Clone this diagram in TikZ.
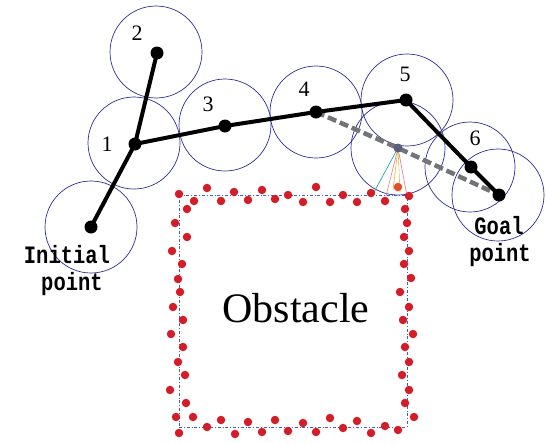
\documentclass[tikz,border=0pt]{standalone}
\usepackage{fontspec}
\setmainfont{Liberation Serif}
\newfontfamily\labfont[FakeStretch=0.82]{Liberation Mono}
\definecolor{zoneblue}{RGB}{45,45,150}
\definecolor{ghostgray}{RGB}{115,115,120}
\definecolor{reddot}{RGB}{210,30,40}
\definecolor{obsblue}{RGB}{70,90,200}
\definecolor{midgray}{RGB}{90,95,125}
\begin{document}
\begin{tikzpicture}[x=1pt,y=-1pt,
  zone/.style={circle,draw=zoneblue,line width=0.7pt,minimum size=92pt,inner sep=0pt},
  wp/.style={circle,fill=black,minimum size=13pt,inner sep=0pt},
  route/.style={line width=4pt,black,line cap=round,line join=round},
  ghost/.style={line width=4.5pt,draw=ghostgray,dash pattern=on 9pt off 4pt},
  rd/.style={circle,fill=reddot,minimum size=8.5pt,inner sep=0pt},
  num/.style={font=\fontsize{22}{22}\selectfont,inner sep=0pt},
  lbl/.style={font=\labfont\bfseries\fontsize{25}{25}\selectfont,anchor=base,inner sep=0pt},
  ray/.style={line width=0.6pt}]
\useasboundingbox (0,0) rectangle (546,442);
% zones
\node[zone] (z0) at (91,227) {};
\node[zone] (z1) at (134,143) {};
\node[zone] (z2) at (156,52) {};
\node[zone] (z3) at (225,125) {};
\node[zone] (z4) at (316,112) {};
\node[zone] (z5) at (407,100) {};
\node[zone,minimum size=94pt] (zm) at (398,148) {};
\node[zone,minimum size=90pt] (z6) at (470,167) {};
\node[zone] (zg) at (498,195) {};
% obstacle
\node[draw=obsblue,line width=0.7pt,dash dot,minimum width=228pt,minimum height=232pt,inner sep=0pt] (obs) at (293,311) {};
\node[font=\fontsize{42}{42}\selectfont,anchor=base,inner sep=0pt] (obstxt) at (296,322) {Obstacle};
% waypoints
\coordinate (p0) at (91,227);
\coordinate (p1) at (135,144);
\coordinate (p2) at (157,53);
\coordinate (p3) at (225,126);
\coordinate (p4) at (316,112);
\coordinate (p5) at (406,100);
\coordinate (pm) at (398,148);
\coordinate (p6) at (471,167);
\coordinate (pg) at (499,195);
% sensor rays
\coordinate (s1) at (374,192);
\coordinate (s2) at (386,196);
\coordinate (s3) at (393,190);
\coordinate (s4) at (400,192);
\coordinate (s5) at (407,196);
\draw[ray,draw={rgb,255:red,0;green,160;blue,170}] (pm) -- (s1);
\draw[ray,draw={rgb,255:red,230;green,130;blue,120}] (pm) -- (s2);
\draw[ray,draw={rgb,255:red,240;green,170;blue,60}] (pm) -- (s3);
\draw[ray,draw={rgb,255:red,200;green,200;blue,80}] (pm) -- (s4);
\draw[ray,draw={rgb,255:red,220;green,120;blue,140}] (pm) -- (s5);
% paths
\draw[ghost] (p4) -- (pm) -- (pg);
\draw[route] (p0) -- (p1) -- (p2);
\draw[route] (p1) -- (p3) -- (p4) -- (p5) -- (p6) -- (pg);
\node[wp] (w0) at (p0) {};
\node[wp] (w1) at (p1) {};
\node[wp] (w2) at (p2) {};
\node[wp] (w3) at (p3) {};
\node[wp] (w4) at (p4) {};
\node[wp] (w5) at (p5) {};
\node[wp] (w6) at (p6) {};
\node[wp] (wg) at (pg) {};
\node[circle,fill=midgray,minimum size=9pt,inner sep=0pt] (wm) at (pm) {};
% red boundary dots
\foreach \x/\y [count=\i] in {179/194,187/209,194/201,207/188,221/201,234/192,248/200,262/190,275/199,288/195,303/202,316/187,330/202,343/195,357/202,371/193,385/201,409/196,405/209,
175/223,187/237,172/251,182/264,178/279,180/292,173/307,183/320,171/334,183/347,178/362,185/375,170/390,186/403,176/417,193/417,
407/223,404/237,409/251,404/264,411/278,400/292,409/307,403/320,413/334,405/347,409/362,402/375,409/390,405/403,414/417,
179/433,207/427,221/420,235/434,248/422,262/432,275/420,288/431,303/423,316/432,330/418,343/428,357/421,371/433,385/426,398/430}
  \node[rd] (r\i) at (\x,\y) {};
\node[circle,fill={rgb,255:red,225;green,80;blue,40},minimum size=8.5pt,inner sep=0pt] (rhit) at (398,187) {};
% labels
\node[num] (n1) at (107,144) {1};
\node[num] (n2) at (137,33) {2};
\node[num] (n3) at (208,104) {3};
\node[num] (n4) at (304,89) {4};
\node[num] (n5) at (405,74) {5};
\node[num] (n6) at (475,138) {6};
\node[lbl] (li1) at (67,263) {Initial};
\node[lbl] (li2) at (72,290) {point};
\node[lbl] (lg1) at (499,234) {Goal};
\node[lbl] (lg2) at (500,261) {point};
\end{tikzpicture}
\end{document}
